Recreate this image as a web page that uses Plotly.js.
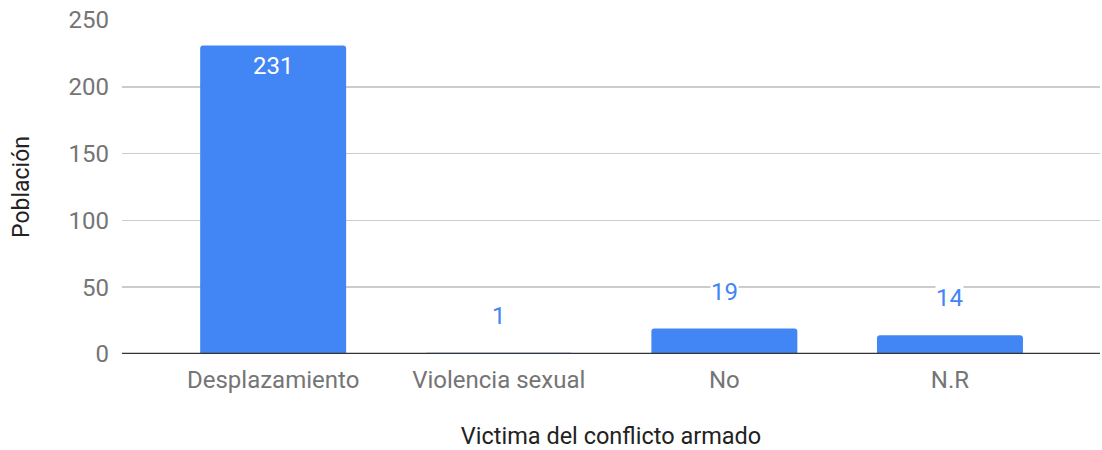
<!DOCTYPE html>
<html><head><meta charset="utf-8">
<script src="https://cdn.plot.ly/plotly-3.0.1.min.js"></script>
<style>html,body{margin:0;padding:0;background:#fff}#chart{width:1102px;height:450px}</style>
</head><body><div id="chart"></div>
<script>
const categories = ["Desplazamiento", "Violencia sexual", "No", "N.R"];
const values = [231, 1, 19, 14];
const xTitle = "Victima del conflicto armado";
const yTitle = "Población";
const yTicks = [0, 50, 100, 150, 200, 250];

const blue = "#4285F4";
const annotations = values.map((v, i) => {
  const inside = v > 100;
  return {
    x: categories[i], y: v, xref: "x", yref: "y",
    text: String(v), showarrow: false,
    yanchor: "middle", yshift: inside ? -21 : 37,
    font: {family: "Roboto", size: 24, color: inside ? "#ffffff" : blue},
    bgcolor: inside ? "rgba(0,0,0,0)" : "#ffffff",
    borderpad: 0
  };
});

const trace = {
  type: "bar", x: categories, y: values,
  marker: {color: blue, cornerradius: 3},
  width: 0.647, hoverinfo: "none"
};

const layout = {
  width: 1102, height: 450,
  margin: {l: 122, r: 2, t: 20, b: 96},
  paper_bgcolor: "#fff", plot_bgcolor: "#fff",
  showlegend: false,
  font: {family: "Roboto", color: "#757575", size: 24},
  xaxis: {
    type: "category", range: [-0.67, 3.665],
    showgrid: false, zeroline: false, showline: false,
    ticks: "", ticklabelstandoff: 9,
    tickfont: {family: "Roboto", size: 24, color: "#757575"},
    title: {text: xTitle, standoff: 36, font: {family: "Roboto", size: 23.5, color: "#222"}}
  },
  yaxis: {
    range: [0, 250], tickvals: yTicks,
    showgrid: true, gridcolor: "#cccccc", gridwidth: 1.5,
    zeroline: false, showline: false, ticks: "", ticklabelstandoff: 12,
    tickfont: {family: "Roboto", size: 24, color: "#757575"},
    title: {text: yTitle, standoff: 32, font: {family: "Roboto", size: 23, color: "#222"}}
  },
  shapes: [{
    type: "line", xref: "paper", x0: 0, x1: 1, yref: "y", y0: 0, y1: 0,
    line: {color: "#333333", width: 2.5}, layer: "above"
  }],
  annotations: annotations
};

Plotly.newPlot("chart", [trace], layout, {displayModeBar: false, staticPlot: true});
</script></body></html>
